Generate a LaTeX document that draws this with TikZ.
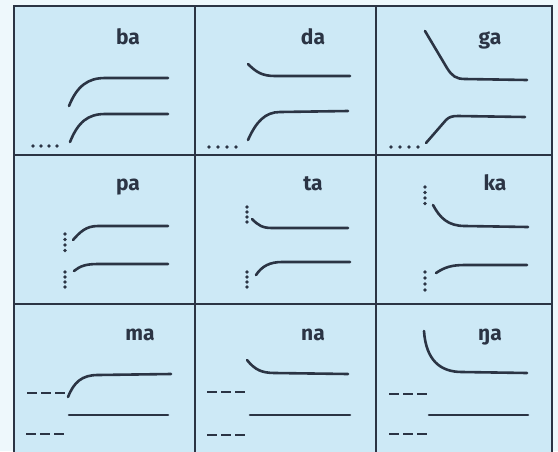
\documentclass[tikz,border=0pt]{standalone}
\usepackage{fontspec}
\setsansfont{Fira Sans}
\definecolor{cellblue}{HTML}{CDE9F6}
\definecolor{margin}{HTML}{EEF8FC}
\definecolor{ink}{HTML}{2B3444}
\begin{document}
\begin{tikzpicture}[x=1pt,y=-1pt,
  grid/.style={draw=ink,line width=1.6pt},
  trace/.style={draw=ink,line width=2.6pt,line cap=round},
  dashseg/.style={draw=ink,line width=2.6pt},
  lab/.style={text=ink,font=\sffamily\bfseries\fontsize{21}{21}\selectfont,inner sep=0pt,anchor=base}]
\useasboundingbox (0,0) rectangle (558,451);
\fill[margin] (0,0) rectangle (558,451);
\begin{scope}
\clip (0,0) rectangle (558,451);
\fill[cellblue] (14,6) rectangle (552,470);
\draw[grid] (14,470) -- (14,6) -- (552,6) -- (552,470);
\draw[grid] (14,155) -- (552,155);
\draw[grid] (14,304) -- (552,304);
\draw[grid] (195,6) -- (195,470);
\draw[grid] (376,6) -- (376,470);
\end{scope}
% labels
\node[lab] (ba) at (128,44) {ba};
\node[lab] (da) at (313,44) {da};
\node[lab] (ga) at (490,44) {ga};
\node[lab] (pa) at (128,190) {pa};
\node[lab] (ta) at (313,190) {ta};
\node[lab] (ka) at (495,190) {ka};
\node[lab] (ma) at (140,340) {ma};
\node[lab] (na) at (313,340) {na};
\node[lab] (nga) at (490,340) {ŋa};
% row 1
\draw[trace] (69,106) .. controls (77,86) and (88,78) .. (105,78) -- (168,78);
\draw[trace] (70,142) .. controls (78,122) and (88,114) .. (105,114) -- (168,114);
\draw[trace] (248,64) .. controls (256,72) and (262,76) .. (275,76) -- (350,76);
\draw[trace] (248,140) .. controls (256,122) and (265,112) .. (280,112) -- (348,111);
\draw[trace] (425,31) -- (447,68) .. controls (452,76) and (456,79) .. (465,79) -- (527,80);
\draw[trace] (426,143) -- (446,120) .. controls (449,117) and (452,116) .. (458,116) -- (525,117);
\foreach \x in {33,41,49,57} \fill[ink] (\x,146) circle (1.8pt);
\foreach \x in {209,218,227,236} \fill[ink] (\x,147) circle (1.8pt);
\foreach \x in {391,400,409,418} \fill[ink] (\x,147) circle (1.8pt);
% row 2
\draw[trace] (73,240) .. controls (80,232) and (86,226) .. (98,226) -- (168,226);
\draw[trace] (74,271) .. controls (80,266) and (86,264) .. (98,264) -- (168,264);
\draw[trace] (252,219) .. controls (258,225) and (262,228) .. (272,228) -- (348,228);
\draw[trace] (256,275) .. controls (262,266) and (270,262) .. (282,262) -- (350,262);
\draw[trace] (433,205) .. controls (440,218) and (448,226) .. (465,226) -- (528,227);
\draw[trace] (436,273) .. controls (445,267) and (452,265) .. (465,265) -- (527,265);
\foreach \y in {234,239.5,245,250.5} \fill[ink] (65,\y) circle (1.8pt);
\foreach \y in {272,277,282,287} \fill[ink] (65,\y) circle (1.8pt);
\foreach \y in {207,212,217,222} \fill[ink] (247,\y) circle (1.8pt);
\foreach \y in {272,277,282,287} \fill[ink] (247,\y) circle (1.8pt);
\foreach \y in {187,192.5,198,203.5} \fill[ink] (425,\y) circle (1.8pt);
\foreach \y in {272,278,284,290} \fill[ink] (425,\y) circle (1.8pt);
% row 3
\draw[trace] (68,397) .. controls (74,382) and (82,375) .. (98,375) -- (171,374);
\draw[trace] (69,415) -- (168,415);
\draw[trace] (247,360) .. controls (255,370) and (262,373) .. (275,373) -- (348,374);
\draw[trace] (250,415) -- (350,415);
\draw[trace] (424,331) .. controls (426,360) and (440,372) .. (462,372) -- (527,373);
\draw[trace] (429,415) -- (528,415);
\foreach \x/\y in {27/393,26/434,207/392,207/435,389/394,389/434}
  \foreach \d in {0,14,28} \draw[dashseg] (\x+\d,\y) -- (\x+\d+10,\y);
\end{tikzpicture}
\end{document}
